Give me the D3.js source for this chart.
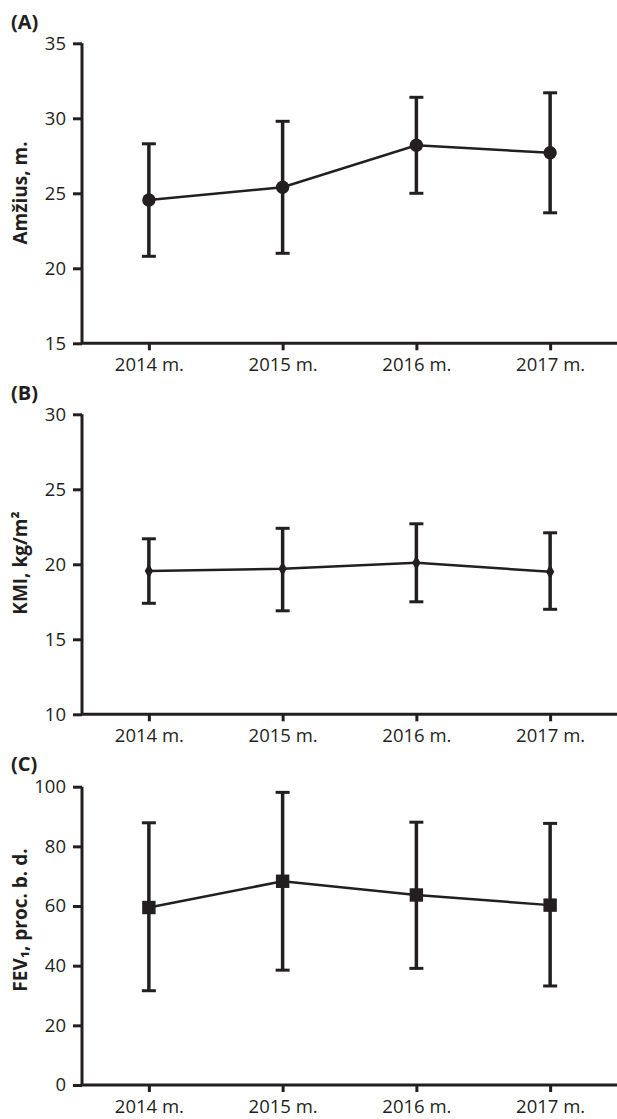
<!DOCTYPE html>
<html><head><meta charset="utf-8">
<script src="https://cdn.jsdelivr.net/npm/d3@7"></script>
<style>
html,body{margin:0;padding:0;background:#fff;}
svg{display:block;}
text{font-family:"Open Sans","Noto Sans",sans-serif;fill:#231f20;}
</style></head>
<body>
<svg id="c" width="617" height="1119"></svg>
<script>
const years = ["2014 m.", "2015 m.", "2016 m.", "2017 m."];

const ageMean = [24.55, 25.4, 28.2, 27.7];
const ageLow  = [20.8, 21.0, 25.0, 23.7];
const ageHigh = [28.3, 29.8, 31.4, 31.7];
const ageTicks = [15, 20, 25, 30, 35];

const bmiMean = [19.55, 19.7, 20.1, 19.5];
const bmiLow  = [17.4, 16.9, 17.5, 17.0];
const bmiHigh = [21.7, 22.4, 22.7, 22.1];
const bmiTicks = [10, 15, 20, 25, 30];

const fevMean = [59.5, 68.3, 63.7, 60.3];
const fevLow  = [31.6, 38.5, 39.1, 33.2];
const fevHigh = [87.9, 98.1, 88.1, 87.7];
const fevTicks = [0, 20, 40, 60, 80, 100];

const ink = "#231f20";
const svg = d3.select("#c");

const panels = [
  {tag:"(A)", title:"Amžius, m.", mean:ageMean, low:ageLow, high:ageHigh, ticks:ageTicks,
   top:43.3, bottom:343.3, tagY:29, marker:"circle", titleY:193},
  {tag:"(B)", title:"KMI, kg/m²", mean:bmiMean, low:bmiLow, high:bmiHigh, ticks:bmiTicks,
   top:414.3, bottom:714.3, tagY:400, marker:"diamond", titleY:563},
  {tag:"(C)", title:"FEV₁, proc. b. d.", mean:fevMean, low:fevLow, high:fevHigh, ticks:fevTicks,
   top:786.7, bottom:1085, tagY:771, marker:"square", titleY:920}
];

const x = d3.scalePoint().domain(years).range([82, 617]).padding(0.5);

panels.forEach(p => {
  const y = d3.scaleLinear().domain(d3.extent(p.ticks)).range([p.bottom, p.top]);
  const g = svg.append("g");

  // y axis
  const ya = g.append("g").attr("transform", "translate(82,0)")
    .call(d3.axisLeft(y).tickValues(p.ticks).tickSize(9).tickPadding(7).tickFormat(d3.format("d")));
  ya.select(".domain").attr("d", `M0,${p.top}V${p.bottom}`).attr("stroke", ink).attr("stroke-width", 3);
  ya.selectAll(".tick line").attr("stroke", ink).attr("stroke-width", 3);
  ya.selectAll(".tick text").attr("font-size", 18.5).attr("fill", ink)
    .style("font-family", '"Open Sans","Noto Sans",sans-serif');

  // x axis
  const xa = g.append("g").attr("transform", `translate(0,${p.bottom})`)
    .call(d3.axisBottom(x).tickSize(7).tickPadding(8));
  xa.select(".domain").attr("d", "M81,0H617").attr("stroke", ink).attr("stroke-width", 3);
  xa.selectAll(".tick line").attr("stroke", ink).attr("stroke-width", 3);
  xa.selectAll(".tick text").attr("font-size", 18.5).attr("fill", ink)
    .style("font-family", '"Open Sans","Noto Sans",sans-serif');

  // error bars
  const idx = d3.range(years.length);
  g.selectAll("line.err").data(idx).join("line")
    .attr("x1", i => x(years[i])).attr("x2", i => x(years[i]))
    .attr("y1", i => y(p.low[i])).attr("y2", i => y(p.high[i]))
    .attr("stroke", ink).attr("stroke-width", 3.5);
  g.selectAll("line.capT").data(idx).join("line")
    .attr("x1", i => x(years[i]) - 7).attr("x2", i => x(years[i]) + 7)
    .attr("y1", i => y(p.high[i])).attr("y2", i => y(p.high[i]))
    .attr("stroke", ink).attr("stroke-width", 3);
  g.selectAll("line.capB").data(idx).join("line")
    .attr("x1", i => x(years[i]) - 7).attr("x2", i => x(years[i]) + 7)
    .attr("y1", i => y(p.low[i])).attr("y2", i => y(p.low[i]))
    .attr("stroke", ink).attr("stroke-width", 3);

  // line
  const line = d3.line().x((d, i) => x(years[i])).y(d => y(d));
  g.append("path").datum(p.mean).attr("d", line)
    .attr("fill", "none").attr("stroke", ink).attr("stroke-width", 2.5);

  // markers
  const sym = p.marker === "circle" ? d3.symbol(d3.symbolCircle, 140)
            : p.marker === "square" ? d3.symbol(d3.symbolSquare, 180)
            : d3.symbol(d3.symbolDiamond, 60);
  g.selectAll("path.mk").data(idx).join("path")
    .attr("transform", i => `translate(${x(years[i])},${y(p.mean[i])})`)
    .attr("d", sym).attr("fill", ink);

  // panel tag
  g.append("text").attr("x", 11).attr("y", p.tagY).attr("font-size", 20)
    .attr("font-weight", "bold").text(p.tag);

  // y title
  g.append("text").attr("transform", `translate(27,${p.titleY}) rotate(-90)`)
    .attr("text-anchor", "middle").attr("font-size", 19).attr("font-weight", "bold")
    .text(p.title);
});
</script>
</body></html>
